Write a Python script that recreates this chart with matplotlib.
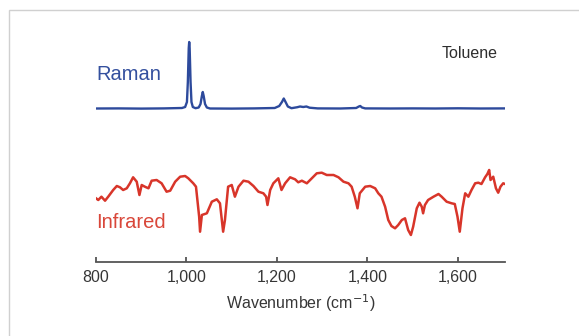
import numpy as np
import matplotlib.pyplot as plt
from matplotlib.patches import Rectangle

plt.rcParams['font.family'] = ['Liberation Sans', 'DejaVu Sans']

# Raman spectrum (wavenumber, offset intensity, arb. units)
raman_wn = [800, 850, 900, 950, 990, 997, 1001, 1003, 1005, 1006, 1007, 1009, 1011, 1014,
            1020, 1027, 1031, 1034, 1036, 1038, 1041, 1045, 1052, 1100, 1150, 1195, 1205,
            1211, 1215, 1219, 1224, 1232, 1245, 1251, 1258, 1265, 1272, 1290, 1340, 1375,
            1381, 1384, 1388, 1395, 1450, 1500, 1550, 1600, 1650, 1704]
raman_I = [153.5, 153.6, 153.4, 153.6, 154, 155, 160, 180, 214, 220, 214, 180, 160, 155,
           153.8, 154.5, 158, 166, 170, 166, 158, 154.5, 153.5, 153.4, 153.6, 154, 156,
           160, 163.5, 160, 155.5, 153.8, 154.8, 155.5, 155, 155.5, 154.3, 153.6, 153.5, 154,
           155.5, 156, 154.5, 153.6, 153.5, 153.6, 153.5, 153.7, 153.5, 153.6]

# Infrared spectrum (wavenumber, offset transmittance, arb. units)
ir_wn = [800, 805, 812, 820, 827, 838, 846, 853, 860, 868, 875, 882, 890, 896, 901, 908,
         916, 923, 934, 945, 956, 964, 975, 986, 997, 1004, 1015, 1021, 1028, 1030, 1034,
         1045, 1056, 1067, 1074, 1081, 1085, 1092, 1100, 1107, 1115, 1126, 1137, 1148,
         1159, 1170, 1176, 1179, 1185, 1192, 1203, 1210, 1218, 1229, 1240, 1247, 1255,
         1266, 1277, 1288, 1299, 1310, 1325, 1336, 1347, 1358, 1365, 1372, 1378, 1383,
         1395, 1406, 1417, 1424, 1431, 1439, 1446, 1453, 1461, 1468, 1476, 1483, 1490,
         1496, 1501, 1509, 1515, 1520, 1523, 1527, 1534, 1546, 1557, 1564, 1575, 1586,
         1593, 1599, 1604, 1610, 1616, 1623, 1630, 1638, 1645, 1652, 1660, 1665, 1669,
         1672, 1678, 1684, 1689, 1694, 1700, 1704]
ir_T = [63.7, 62, 65.3, 61.3, 65.3, 72, 76, 74.7, 72, 73.7, 78.7, 84.7, 80.3, 67, 77, 75.3,
        73.7, 81.3, 82, 78.7, 70.3, 71.3, 80.3, 85.3, 86, 83.7, 78.7, 75.3, 45.3, 30.3, 47,
        48.7, 60.3, 62.7, 58.7, 30.3, 42, 75.3, 77, 65.3, 75.3, 81.3, 80.3, 76,
        70.3, 68.7, 65.3, 57, 72, 78.7, 83.7, 72, 78.7, 84.7, 82.7, 79.7, 81.3,
        78.7, 83.7, 88.7, 89.3, 87, 87, 84.7, 80.3, 78.7, 75.3, 65.3, 53.7, 68.7,
        75.3, 76, 73.7, 68.7, 65.3, 55.3, 42, 36, 33.7, 37, 42, 43.7, 32,
        27, 35.3, 53.7, 59.3, 55.3, 48.7, 57, 62, 65.3, 68, 65.3, 60.3, 58.7,
        58, 45.3, 30.3, 53.7, 68.7, 65.3, 72, 78.7, 79.3, 78, 84.7, 88, 92,
        82, 85.3, 73.7, 69.3, 75.3, 78.7, 78]

ticks = [800, 1000, 1200, 1400, 1600]
tick_labels = ['800', '1,000', '1,200', '1,400', '1,600']

fig = plt.figure(figsize=(5.79, 3.36), dpi=100)
ax = fig.add_axes([96/579, 74/336, 409/579, 242/336])

ax.plot(raman_wn, raman_I, color='#2d4a9c', lw=1.7, solid_joinstyle='round')
ax.plot(ir_wn, ir_T, color='#d8352a', lw=1.8, solid_joinstyle='round')

ax.text(800, 187, 'Raman', color='#34509e', fontsize=14.5, va='center', ha='left')
ax.text(800, 39, 'Infrared', color='#d9473a', fontsize=14.5, va='center', ha='left')
ax.text(1688, 209, 'Toluene', color='#2e2e2e', fontsize=11.5, va='center', ha='right')

ax.set_xlim(800, 1704)
ax.set_ylim(0, 242)
for s in ['top', 'right', 'left']:
    ax.spines[s].set_visible(False)
ax.spines['bottom'].set_color('#555555')
ax.spines['bottom'].set_linewidth(1.3)
ax.set_yticks([])
ax.set_xticks(ticks)
ax.set_xticklabels(tick_labels)
ax.tick_params(axis='x', direction='in', length=3.5, width=1.3, color='#555555',
               labelsize=11.5, labelcolor='#363636', pad=6)
ax.set_xlabel(r'Wavenumber (cm$^{-1}$)', fontsize=11.5, color='#363636', labelpad=5)

# light frame around the panel (open on right and bottom)
fig.patches.append(Rectangle((9/579, -0.1), 1.2, (326/336) + 0.1, transform=fig.transFigure,
                             fill=False, edgecolor='#d0d0d0', lw=1.0))

fig.savefig('out.png', dpi=100)
